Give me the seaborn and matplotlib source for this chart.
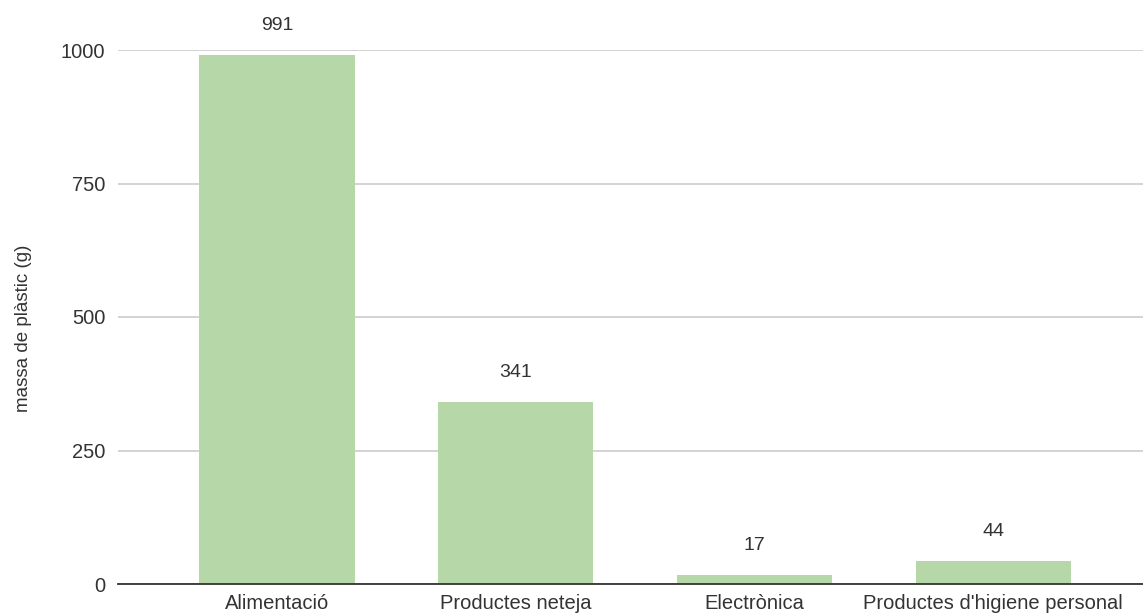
import matplotlib
matplotlib.use("Agg")
import matplotlib.pyplot as plt
import seaborn as sns
import pandas as pd

categories = ["Alimentació", "Productes neteja", "Electrònica", "Productes d'higiene personal"]
masses = [991, 341, 17, 44]
y_ticks = [0, 250, 500, 750, 1000]
y_label = "massa de plàstic (g)"

df = pd.DataFrame({"categoria": categories, "massa": masses})

sns.set_theme(style="white")
plt.rcParams["font.family"] = ["Liberation Sans", "DejaVu Sans"]

fig = plt.figure(figsize=(11.43, 6.15), dpi=100)
ax = fig.add_axes([118 / 1143, 1 - 584 / 615, 1 - 118 / 1143, (584 - 50) / 615])

sns.barplot(data=df, x="categoria", y="massa", color="#b6d7a8", width=0.65,
            saturation=1, linewidth=0, ax=ax, zorder=3)

text_color = "#333333"
for i, v in enumerate(masses):
    ax.annotate(f"{v}", (i, v), xytext=(0, 15), textcoords="offset points",
                ha="center", va="bottom", fontsize=14, color=text_color,
                annotation_clip=False)

ax.set_ylim(0, 1000)
ax.set_xlim(-0.666, 3.628)
ax.set_yticks(y_ticks)
ax.set_yticklabels([str(t) for t in y_ticks])
ax.yaxis.grid(True, color="#d0d0d0", linewidth=1.3, zorder=0)
ax.set_axisbelow(True)
for s in ["top", "right", "left"]:
    ax.spines[s].set_visible(False)
ax.spines["bottom"].set_color("#333333")
ax.spines["bottom"].set_linewidth(1.3)
ax.spines["bottom"].set_zorder(4)
ax.tick_params(axis="both", length=0, labelsize=14.5, colors=text_color)
ax.tick_params(axis="y", pad=9)
ax.tick_params(axis="x", pad=7)
ax.set_xlabel("")
ax.set_ylabel(y_label, fontsize=13.5, color=text_color)
ax.yaxis.set_label_coords(-(118 - 32) / (1143 - 118), 0.478)

fig.savefig("out.png", dpi=100)
